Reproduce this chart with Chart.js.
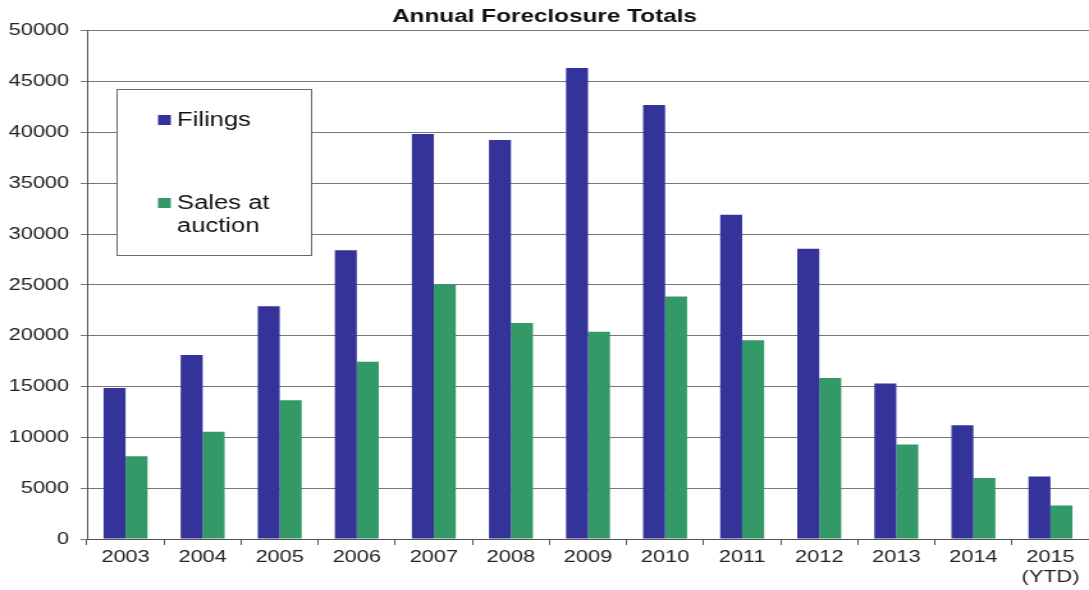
<!DOCTYPE html>
<html>
<head>
<meta charset="utf-8">
<script src="https://cdn.jsdelivr.net/npm/chart.js@4"></script>
<style>
  html, body { margin: 0; padding: 0; background: #fff; }
  /* the original picture is stretched sideways, so draw narrow and widen with css */
  #myChart { width: 1089px; height: 590px; display: block; }
</style>
</head>
<body>
<canvas id="myChart" width="851" height="590" style="width:1089px;height:590px"></canvas>
<script>
// data
const years = ['2003', '2004', '2005', '2006', '2007', '2008', '2009', '2010', '2011', '2012', '2013', '2014', ['2015', '(YTD)']];
const filings = [14850, 18100, 22900, 28400, 39850, 39250, 46350, 42700, 31900, 28550, 15300, 11200, 6150];
const sales = [8150, 10550, 13650, 17450, 25050, 21250, 20400, 23850, 19550, 15850, 9300, 6000, 3300];
const yTicks = [0, 5000, 10000, 15000, 20000, 25000, 30000, 35000, 40000, 45000, 50000];

const FONT = 'Arial, "Liberation Sans", sans-serif';
const S = 1089 / 851; // horizontal stretch

/*** boxed legend inside the plot ***/
const boxLegend = {
  id: 'boxLegend',
  afterDraw(chart) {
    const ctx = chart.ctx;
    const x = Math.round(116 / S), y = 89, w = Math.round(194 / S), h = 166;
    const tx = 177 / S, sx = 158 / S;
    ctx.save();
    ctx.fillStyle = '#fff';
    ctx.fillRect(x, y, w, h);
    ctx.strokeStyle = '#666';
    ctx.lineWidth = 1;
    ctx.strokeRect(x + 0.5, y + 0.5, w, h);
    ctx.font = '20px ' + FONT;
    ctx.textBaseline = 'middle';
    const ds = chart.data.datasets;
    // Filings
    ctx.fillStyle = ds[0].backgroundColor;
    ctx.fillRect(sx, 115, 10, 10);
    ctx.fillStyle = '#111';
    ctx.fillText(ds[0].label, tx, 120);
    // Sales at auction (two lines)
    ctx.fillStyle = ds[1].backgroundColor;
    ctx.fillRect(sx, 198, 10, 10);
    ctx.fillStyle = '#111';
    const parts = ds[1].label.split(' ');
    ctx.fillText(parts.slice(0, 2).join(' '), tx, 203);
    ctx.fillText(parts.slice(2).join(' '), tx, 226);
    ctx.restore();
  }
};

const data = {
  labels: years,
  datasets: [{
    label: 'Filings',
    data: filings,
    backgroundColor: '#333399',
    borderWidth: 0,
    categoryPercentage: 0.57,
    barPercentage: 1.0
  }, {
    label: 'Sales at auction',
    data: sales,
    backgroundColor: '#339966',
    borderWidth: 0,
    categoryPercentage: 0.57,
    barPercentage: 1.0
  }]
};

const config = {
  type: 'bar',
  data: data,
  options: {
    responsive: false,
    animation: false,
    devicePixelRatio: 1,
    layout: { padding: { left: 0, right: 0, top: 0, bottom: 0 } },
    plugins: {
      legend: { display: false },
      tooltip: { enabled: false },
      title: {
        display: true,
        text: 'Annual Foreclosure Totals',
        color: '#111',
        font: { family: FONT, size: 19, weight: 'bold' },
        padding: { top: 5, bottom: 3 }
      }
    },
    scales: {
      x: {
        grid: {
          display: true,
          offset: true,
          drawOnChartArea: false,
          drawTicks: true,
          tickLength: 6,
          color: '#555'
        },
        border: { display: true, color: '#555', width: 1 },
        ticks: {
          color: '#222',
          font: { family: FONT, size: 17 },
          padding: 2,
          maxRotation: 0,
          autoSkip: false
        },
        afterFit(scale) { scale.height = 51; }
      },
      y: {
        min: 0,
        max: 50000,
        afterBuildTicks(scale) { scale.ticks = yTicks.map(v => ({ value: v })); },
        grid: {
          color: '#777',
          lineWidth: 1,
          tickLength: 5,
          drawTicks: true
        },
        border: { display: true, color: '#555', width: 1 },
        ticks: {
          color: '#222',
          font: { family: FONT, size: 17 },
          padding: 9,
          callback: v => String(v)
        },
        afterFit(scale) { scale.width = 68; }
      }
    }
  },
  plugins: [boxLegend]
};

const myChart = new Chart(document.getElementById('myChart'), config);
</script>
</body>
</html>
